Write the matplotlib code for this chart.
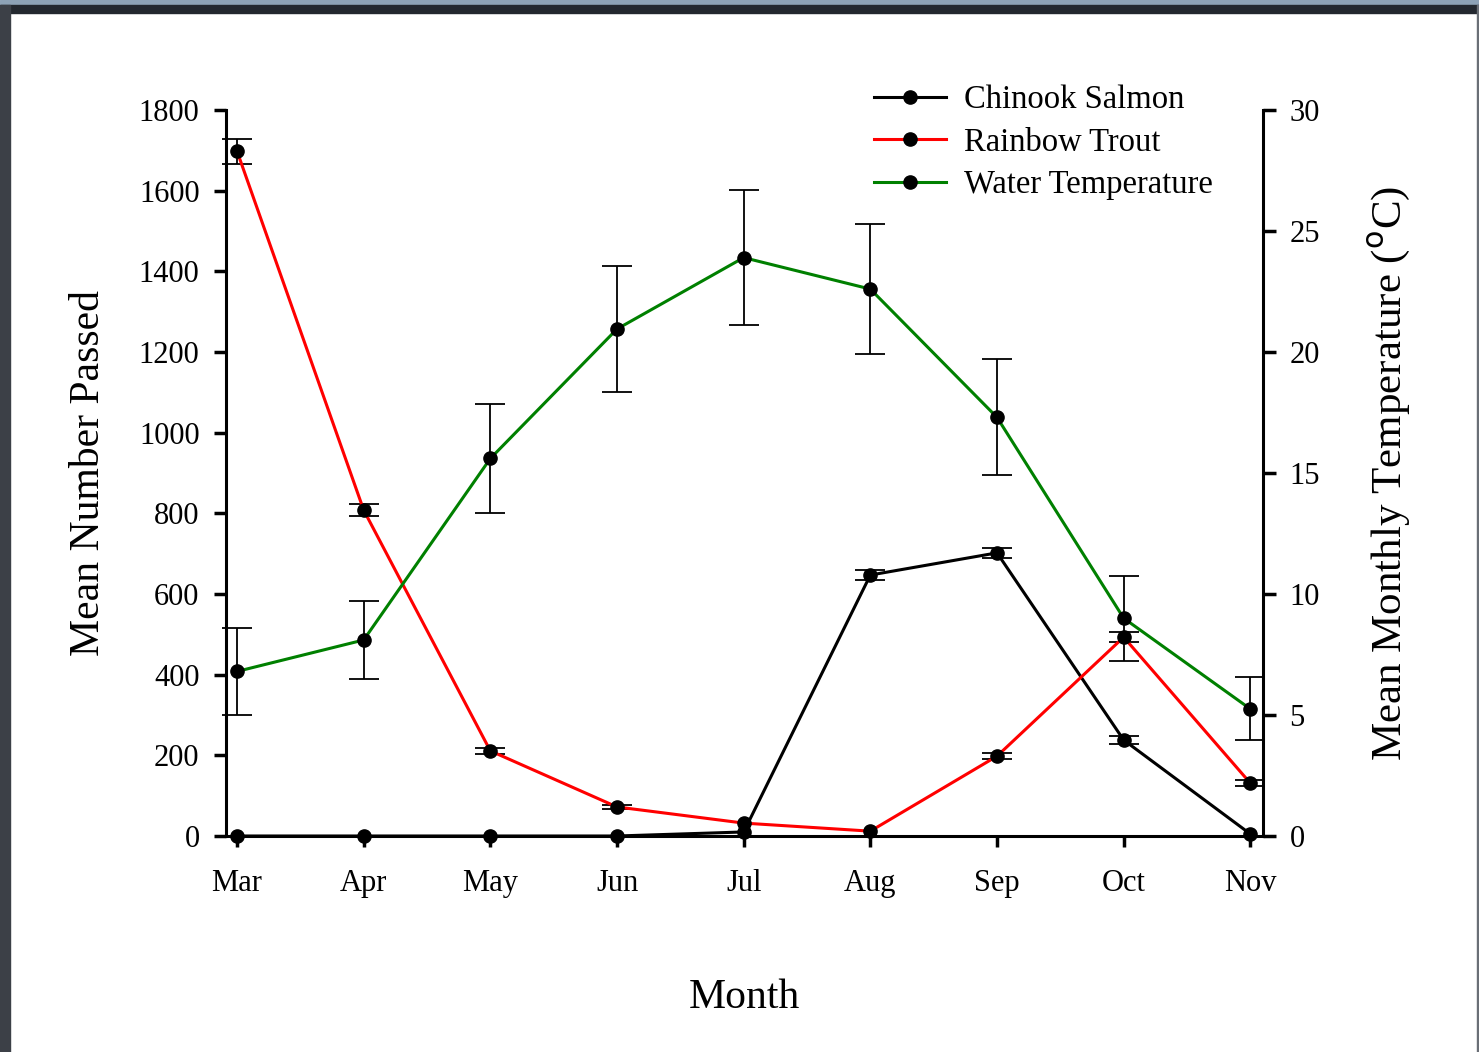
import numpy as np
import matplotlib
matplotlib.use("Agg")
import matplotlib.pyplot as plt
from matplotlib.patches import Rectangle
from matplotlib.lines import Line2D

plt.rcParams['font.family'] = ['Liberation Serif', 'DejaVu Serif']

months = ['Mar', 'Apr', 'May', 'Jun', 'Jul', 'Aug', 'Sep', 'Oct', 'Nov']

chinook = [0, 0, 0, 0, 10, 647, 702, 238, 5]
chinook_err = [0, 0, 0, 0, 0, 12, 12, 10, 0]

trout = [1698, 808, 211, 72, 32, 12, 198, 493, 131]
trout_err = [31, 15, 8, 6, 0, 0, 8, 12, 8]

temp = [6.8, 8.1, 15.6, 20.95, 23.9, 22.6, 17.3, 9.0, 5.25]
temp_err = [1.8, 1.6, 2.27, 2.6, 2.8, 2.7, 2.4, 1.75, 1.3]

W, H = 1479, 1052
fig = plt.figure(figsize=(W / 100, H / 100), dpi=100)

# screenshot frame around the slide
fig.patches.append(Rectangle((0, 1 - 5 / H), 1, 5 / H, transform=fig.transFigure,
                             color='#8da2b6', zorder=0))
fig.patches.append(Rectangle((0, 1 - 13 / H), 1, 8 / H, transform=fig.transFigure,
                             color='#23282f', zorder=0))
fig.patches.append(Rectangle((0, 0), 10 / W, 1 - 5 / H, transform=fig.transFigure,
                             color='#3c4047', zorder=0))
fig.patches.append(Rectangle((1 - 2 / W, 0), 2 / W, 1 - 5 / H, transform=fig.transFigure,
                             color='#6a6f76', zorder=0))

ax = fig.add_axes([226 / W, 1 - 836 / H, (1263 - 226) / W, (836 - 110) / H])
ax2 = ax.twinx()

x = np.arange(len(months))
mk = dict(marker='o', markersize=9.5, markerfacecolor='black', markeredgecolor='black')


def series(a, vals, errs, color, label):
    vals = np.asarray(vals, float)
    errs = np.asarray(errs, float)
    a.plot(x, vals, color=color, lw=2.2, clip_on=False, label=label, zorder=3, **mk)
    m = errs > 0
    a.errorbar(x[m], vals[m], yerr=errs[m], fmt='none', ecolor='black',
               elinewidth=1.3, capsize=11, capthick=1.3, zorder=2, clip_on=False)


series(ax, chinook, chinook_err, 'black', 'Chinook Salmon')
series(ax, trout, trout_err, '#ff0000', 'Rainbow Trout')
series(ax2, temp, temp_err, '#008000', 'Water Temperature')

ax.set_xlim(-0.087, 8.10)
ax.set_ylim(0, 1800)
ax2.set_ylim(0, 30)
ax.set_yticks(np.arange(0, 1801, 200))
ax2.set_yticks(np.arange(0, 31, 5))
ax.set_xticks(x)
ax.set_xticklabels(months)

ax.spines['top'].set_visible(False)
ax2.spines['top'].set_visible(False)
ax2.spines['left'].set_visible(False)
ax2.spines['bottom'].set_visible(False)
ax.spines['right'].set_visible(False)
for sp in [ax.spines['left'], ax.spines['bottom'], ax2.spines['right']]:
    sp.set_linewidth(2.2)

ax.tick_params(axis='y', direction='out', length=9, width=2.5, labelsize=22, pad=10)
ax.tick_params(axis='x', direction='out', length=8, width=2.5, labelsize=22, pad=16)
ax2.tick_params(axis='y', direction='out', length=9, width=2.5, labelsize=22, pad=10)

ax.set_ylabel('Mean Number Passed', fontsize=30, labelpad=22)
ax.set_xlabel('Month', fontsize=30, labelpad=58)
ax2.set_ylabel('Mean Monthly Temperature ($^{\\mathrm{o}}$C)', fontsize=31, labelpad=34)

handles = [Line2D([], [], color=c, lw=2.2, **mk) for c in ['black', '#ff0000', '#008000']]
labels = ['Chinook Salmon', 'Rainbow Trout', 'Water Temperature']
ax2.legend(handles, labels, loc='upper left', bbox_to_anchor=(874 / W, 1 - 85 / H),
           bbox_transform=fig.transFigure, frameon=False, fontsize=23.5,
           handlelength=2.2, handletextpad=0.55, labelspacing=0.36,
           borderpad=0, borderaxespad=0)

fig.savefig('out.png', dpi=100, facecolor='white')
